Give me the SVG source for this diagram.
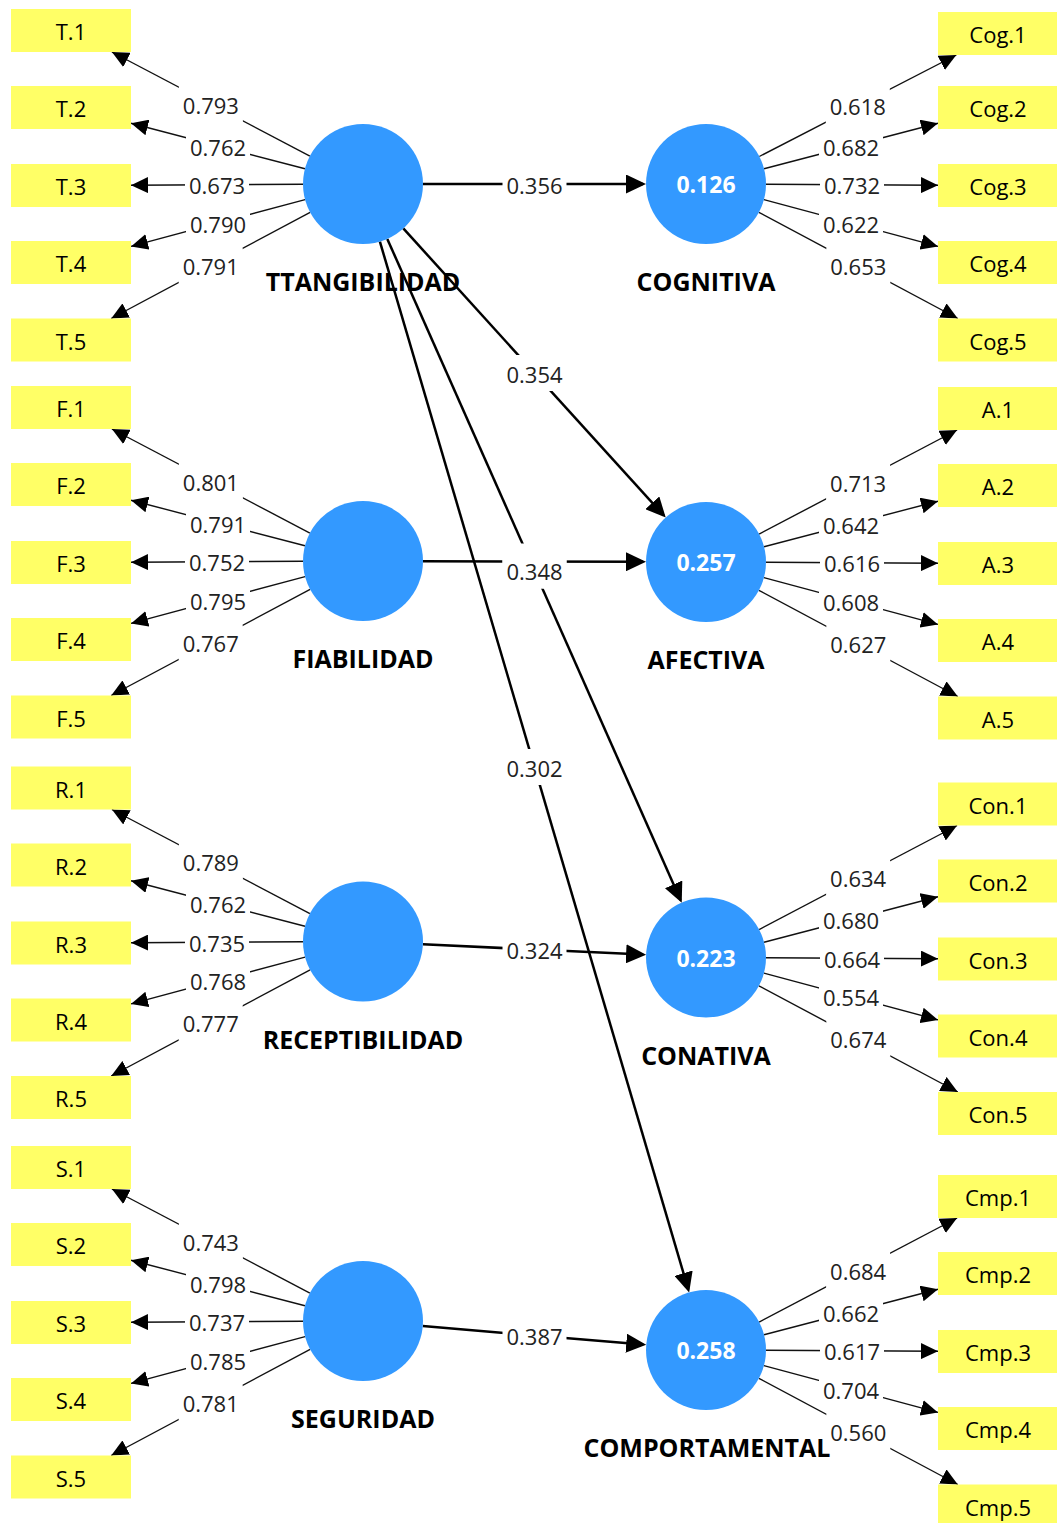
<svg xmlns="http://www.w3.org/2000/svg" width="1057" height="1523" viewBox="0 0 1057 1523">
<defs>
<style>
text{font-family:"Open Sans","Noto Sans","DejaVu Sans",sans-serif;text-anchor:middle}
.box{fill:#FFFF66}
.ind{font-size:22px;fill:#000}
.lv{fill:#3399FF}
.name{font-size:25px;font-weight:bold;fill:#000}
.val{font-size:23px;font-weight:bold;fill:#fff}
.ld{stroke:#111;stroke-width:1.4;fill:none;marker-end:url(#ah)}
.pc{stroke:#000;stroke-width:2.5;fill:none;marker-end:url(#ahb)}
.lb rect{fill:#fff}
.lb text{font-size:22px;fill:#222}
</style>
<marker id="ah" viewBox="0 0 17 16" refX="17" refY="8" markerWidth="17" markerHeight="16" markerUnits="userSpaceOnUse" orient="auto"><path d="M0,0 L17,8 L0,16 z" fill="#000"/></marker>
<marker id="ahb" viewBox="0 0 20 19" refX="17" refY="9.5" markerWidth="20" markerHeight="19" markerUnits="userSpaceOnUse" orient="auto"><path d="M0,0 L20,9.5 L0,19 z" fill="#000"/></marker>
</defs>
<rect width="1057" height="1523" fill="#fff"/>

<g id="connectors">
<g id="loadings">
<line class="ld" x1="309.9" y1="156.1" x2="111.9" y2="52"/>
<line class="ld" x1="305" y1="168.8" x2="131" y2="123.2"/>
<line class="ld" x1="303" y1="184.3" x2="131" y2="185.2"/>
<line class="ld" x1="305.1" y1="199.6" x2="131" y2="246.4"/>
<line class="ld" x1="310.1" y1="212.3" x2="111.2" y2="318.5"/>
<line class="ld" x1="309.9" y1="533.1" x2="111.9" y2="429"/>
<line class="ld" x1="305" y1="545.8" x2="131" y2="500.2"/>
<line class="ld" x1="303" y1="561.3" x2="131" y2="562.2"/>
<line class="ld" x1="305.1" y1="576.6" x2="131" y2="623.4"/>
<line class="ld" x1="310.1" y1="589.3" x2="111.2" y2="695.5"/>
<line class="ld" x1="309.9" y1="913.6" x2="111.9" y2="809.5"/>
<line class="ld" x1="305" y1="926.3" x2="131" y2="880.7"/>
<line class="ld" x1="303" y1="941.8" x2="131" y2="942.7"/>
<line class="ld" x1="305.1" y1="957.1" x2="131" y2="1003.9"/>
<line class="ld" x1="310.1" y1="969.8" x2="111.2" y2="1076"/>
<line class="ld" x1="309.9" y1="1293.1" x2="111.9" y2="1189"/>
<line class="ld" x1="305" y1="1305.8" x2="131" y2="1260.2"/>
<line class="ld" x1="303" y1="1321.3" x2="131" y2="1322.2"/>
<line class="ld" x1="305.1" y1="1336.6" x2="131" y2="1383.4"/>
<line class="ld" x1="310.1" y1="1349.3" x2="111.2" y2="1455.5"/>
<line class="ld" x1="759.3" y1="156.5" x2="956.3" y2="55"/>
<line class="ld" x1="764" y1="168.8" x2="938" y2="123.2"/>
<line class="ld" x1="766" y1="184.3" x2="938" y2="185.2"/>
<line class="ld" x1="763.9" y1="199.6" x2="938" y2="246.4"/>
<line class="ld" x1="758.9" y1="212.3" x2="957.8" y2="318.5"/>
<line class="ld" x1="759.1" y1="534.1" x2="957.1" y2="430"/>
<line class="ld" x1="764" y1="546.8" x2="938" y2="501.2"/>
<line class="ld" x1="766" y1="562.3" x2="938" y2="563.2"/>
<line class="ld" x1="763.9" y1="577.6" x2="938" y2="624.4"/>
<line class="ld" x1="758.9" y1="590.3" x2="957.8" y2="696.5"/>
<line class="ld" x1="759.1" y1="929.6" x2="957.1" y2="825.5"/>
<line class="ld" x1="764" y1="942.3" x2="938" y2="896.7"/>
<line class="ld" x1="766" y1="957.8" x2="938" y2="958.7"/>
<line class="ld" x1="763.9" y1="973.1" x2="938" y2="1019.9"/>
<line class="ld" x1="758.9" y1="985.8" x2="957.8" y2="1092"/>
<line class="ld" x1="759.1" y1="1322.1" x2="957.1" y2="1218"/>
<line class="ld" x1="764" y1="1334.8" x2="938" y2="1289.2"/>
<line class="ld" x1="766" y1="1350.3" x2="938" y2="1351.2"/>
<line class="ld" x1="763.9" y1="1365.6" x2="938" y2="1412.4"/>
<line class="ld" x1="758.9" y1="1378.3" x2="957.8" y2="1484.5"/>
</g>
<g id="paths">
<line class="pc" x1="423" y1="184" x2="643" y2="184"/>
<line class="pc" x1="403.3" y1="228.4" x2="663.7" y2="515.4"/>
<line class="pc" x1="387.3" y1="238.9" x2="680.5" y2="899.9"/>
<line class="pc" x1="379.9" y1="241.6" x2="688.3" y2="1289.5"/>
<line class="pc" x1="423" y1="561.2" x2="643" y2="561.8"/>
<line class="pc" x1="422.9" y1="944.3" x2="643.1" y2="954.6"/>
<line class="pc" x1="422.8" y1="1326.1" x2="643.2" y2="1344.6"/>
</g>
<g id="labels" class="lb">
<g transform="translate(210.9,104)"><rect x="-32" y="-18" width="64" height="36"/><text y="9.5">0.793</text></g>
<g transform="translate(218,146)"><rect x="-32" y="-18" width="64" height="36"/><text y="9.5">0.762</text></g>
<g transform="translate(217,184.75)"><rect x="-32" y="-18" width="64" height="36"/><text y="9.5">0.673</text></g>
<g transform="translate(218,223)"><rect x="-32" y="-18" width="64" height="36"/><text y="9.5">0.790</text></g>
<g transform="translate(210.7,265.4)"><rect x="-32" y="-18" width="64" height="36"/><text y="9.5">0.791</text></g>
<g transform="translate(210.9,481)"><rect x="-32" y="-18" width="64" height="36"/><text y="9.5">0.801</text></g>
<g transform="translate(218,523)"><rect x="-32" y="-18" width="64" height="36"/><text y="9.5">0.791</text></g>
<g transform="translate(217,561.75)"><rect x="-32" y="-18" width="64" height="36"/><text y="9.5">0.752</text></g>
<g transform="translate(218,600)"><rect x="-32" y="-18" width="64" height="36"/><text y="9.5">0.795</text></g>
<g transform="translate(210.7,642.4)"><rect x="-32" y="-18" width="64" height="36"/><text y="9.5">0.767</text></g>
<g transform="translate(210.9,861.5)"><rect x="-32" y="-18" width="64" height="36"/><text y="9.5">0.789</text></g>
<g transform="translate(218,903.5)"><rect x="-32" y="-18" width="64" height="36"/><text y="9.5">0.762</text></g>
<g transform="translate(217,942.25)"><rect x="-32" y="-18" width="64" height="36"/><text y="9.5">0.735</text></g>
<g transform="translate(218,980.5)"><rect x="-32" y="-18" width="64" height="36"/><text y="9.5">0.768</text></g>
<g transform="translate(210.7,1022.9)"><rect x="-32" y="-18" width="64" height="36"/><text y="9.5">0.777</text></g>
<g transform="translate(210.9,1241)"><rect x="-32" y="-18" width="64" height="36"/><text y="9.5">0.743</text></g>
<g transform="translate(218,1283)"><rect x="-32" y="-18" width="64" height="36"/><text y="9.5">0.798</text></g>
<g transform="translate(217,1321.75)"><rect x="-32" y="-18" width="64" height="36"/><text y="9.5">0.737</text></g>
<g transform="translate(218,1360)"><rect x="-32" y="-18" width="64" height="36"/><text y="9.5">0.785</text></g>
<g transform="translate(210.7,1402.4)"><rect x="-32" y="-18" width="64" height="36"/><text y="9.5">0.781</text></g>
<g transform="translate(857.8,105.8)"><rect x="-32" y="-18" width="64" height="36"/><text y="9.5">0.618</text></g>
<g transform="translate(851,146)"><rect x="-32" y="-18" width="64" height="36"/><text y="9.5">0.682</text></g>
<g transform="translate(852,184.75)"><rect x="-32" y="-18" width="64" height="36"/><text y="9.5">0.732</text></g>
<g transform="translate(851,223)"><rect x="-32" y="-18" width="64" height="36"/><text y="9.5">0.622</text></g>
<g transform="translate(858.3,265.4)"><rect x="-32" y="-18" width="64" height="36"/><text y="9.5">0.653</text></g>
<g transform="translate(858.1,482)"><rect x="-32" y="-18" width="64" height="36"/><text y="9.5">0.713</text></g>
<g transform="translate(851,524)"><rect x="-32" y="-18" width="64" height="36"/><text y="9.5">0.642</text></g>
<g transform="translate(852,562.75)"><rect x="-32" y="-18" width="64" height="36"/><text y="9.5">0.616</text></g>
<g transform="translate(851,601)"><rect x="-32" y="-18" width="64" height="36"/><text y="9.5">0.608</text></g>
<g transform="translate(858.3,643.4)"><rect x="-32" y="-18" width="64" height="36"/><text y="9.5">0.627</text></g>
<g transform="translate(858.1,877.5)"><rect x="-32" y="-18" width="64" height="36"/><text y="9.5">0.634</text></g>
<g transform="translate(851,919.5)"><rect x="-32" y="-18" width="64" height="36"/><text y="9.5">0.680</text></g>
<g transform="translate(852,958.25)"><rect x="-32" y="-18" width="64" height="36"/><text y="9.5">0.664</text></g>
<g transform="translate(851,996.5)"><rect x="-32" y="-18" width="64" height="36"/><text y="9.5">0.554</text></g>
<g transform="translate(858.3,1038.9)"><rect x="-32" y="-18" width="64" height="36"/><text y="9.5">0.674</text></g>
<g transform="translate(858.1,1270)"><rect x="-32" y="-18" width="64" height="36"/><text y="9.5">0.684</text></g>
<g transform="translate(851,1312)"><rect x="-32" y="-18" width="64" height="36"/><text y="9.5">0.662</text></g>
<g transform="translate(852,1350.75)"><rect x="-32" y="-18" width="64" height="36"/><text y="9.5">0.617</text></g>
<g transform="translate(851,1389)"><rect x="-32" y="-18" width="64" height="36"/><text y="9.5">0.704</text></g>
<g transform="translate(858.3,1431.4)"><rect x="-32" y="-18" width="64" height="36"/><text y="9.5">0.560</text></g>
<g transform="translate(534.5,184)"><rect x="-32" y="-18" width="64" height="36"/><text y="9.5">0.356</text></g>
<g transform="translate(534.5,373)"><rect x="-32" y="-18" width="64" height="36"/><text y="9.5">0.354</text></g>
<g transform="translate(534.5,561.5)"><rect x="-32" y="-18" width="64" height="36"/></g>
<g transform="translate(534.5,570.75)"><rect x="-32" y="-18" width="64" height="36"/><text y="9.5">0.348</text></g>
<g transform="translate(534.5,767)"><rect x="-32" y="-18" width="64" height="36"/><text y="9.5">0.302</text></g>
<g transform="translate(534.5,949.5)"><rect x="-32" y="-18" width="64" height="36"/><text y="9.5">0.324</text></g>
<g transform="translate(534.5,1335.5)"><rect x="-32" y="-18" width="64" height="36"/><text y="9.5">0.387</text></g>
</g>
</g>

<g id="TTANGIBILIDAD"><circle class="lv" cx="363" cy="184" r="60"/><text class="name" x="363" y="291">TTANGIBILIDAD</text></g>
<g id="FIABILIDAD"><circle class="lv" cx="363" cy="561" r="60"/><text class="name" x="363" y="668">FIABILIDAD</text></g>
<g id="RECEPTIBILIDAD"><circle class="lv" cx="363" cy="941.5" r="60"/><text class="name" x="363" y="1048.5">RECEPTIBILIDAD</text></g>
<g id="SEGURIDAD"><circle class="lv" cx="363" cy="1321" r="60"/><text class="name" x="363" y="1428">SEGURIDAD</text></g>
<g id="COGNITIVA"><circle class="lv" cx="706" cy="184" r="60"/><text class="val" x="706" y="193">0.126</text><text class="name" x="706" y="291">COGNITIVA</text></g>
<g id="AFECTIVA"><circle class="lv" cx="706" cy="562" r="60"/><text class="val" x="706" y="571">0.257</text><text class="name" x="706" y="669">AFECTIVA</text></g>
<g id="CONATIVA"><circle class="lv" cx="706" cy="957.5" r="60"/><text class="val" x="706" y="966.5">0.223</text><text class="name" x="706" y="1064.5">CONATIVA</text></g>
<g id="COMPORTAMENTAL"><circle class="lv" cx="706" cy="1350" r="60"/><text class="val" x="706" y="1359">0.258</text><text class="name" x="707" y="1457">COMPORTAMENTAL</text></g>

<g id="T.1"><rect class="box" x="11" y="9" width="120" height="43"/><text class="ind" x="71" y="40">T.1</text></g>
<g id="T.2"><rect class="box" x="11" y="86" width="120" height="43"/><text class="ind" x="71" y="117">T.2</text></g>
<g id="T.3"><rect class="box" x="11" y="164" width="120" height="43"/><text class="ind" x="71" y="195">T.3</text></g>
<g id="T.4"><rect class="box" x="11" y="241" width="120" height="43"/><text class="ind" x="71" y="272">T.4</text></g>
<g id="T.5"><rect class="box" x="11" y="318.5" width="120" height="43"/><text class="ind" x="71" y="349.5">T.5</text></g>
<g id="F.1"><rect class="box" x="11" y="386" width="120" height="43"/><text class="ind" x="71" y="417">F.1</text></g>
<g id="F.2"><rect class="box" x="11" y="463" width="120" height="43"/><text class="ind" x="71" y="494">F.2</text></g>
<g id="F.3"><rect class="box" x="11" y="541" width="120" height="43"/><text class="ind" x="71" y="572">F.3</text></g>
<g id="F.4"><rect class="box" x="11" y="618" width="120" height="43"/><text class="ind" x="71" y="649">F.4</text></g>
<g id="F.5"><rect class="box" x="11" y="695.5" width="120" height="43"/><text class="ind" x="71" y="726.5">F.5</text></g>
<g id="R.1"><rect class="box" x="11" y="766.5" width="120" height="43"/><text class="ind" x="71" y="797.5">R.1</text></g>
<g id="R.2"><rect class="box" x="11" y="843.5" width="120" height="43"/><text class="ind" x="71" y="874.5">R.2</text></g>
<g id="R.3"><rect class="box" x="11" y="921.5" width="120" height="43"/><text class="ind" x="71" y="952.5">R.3</text></g>
<g id="R.4"><rect class="box" x="11" y="998.5" width="120" height="43"/><text class="ind" x="71" y="1029.5">R.4</text></g>
<g id="R.5"><rect class="box" x="11" y="1076" width="120" height="43"/><text class="ind" x="71" y="1107">R.5</text></g>
<g id="S.1"><rect class="box" x="11" y="1146" width="120" height="43"/><text class="ind" x="71" y="1177">S.1</text></g>
<g id="S.2"><rect class="box" x="11" y="1223" width="120" height="43"/><text class="ind" x="71" y="1254">S.2</text></g>
<g id="S.3"><rect class="box" x="11" y="1301" width="120" height="43"/><text class="ind" x="71" y="1332">S.3</text></g>
<g id="S.4"><rect class="box" x="11" y="1378" width="120" height="43"/><text class="ind" x="71" y="1409">S.4</text></g>
<g id="S.5"><rect class="box" x="11" y="1455.5" width="120" height="43"/><text class="ind" x="71" y="1486.5">S.5</text></g>
<g id="Cog.1"><rect class="box" x="938" y="12" width="120" height="43"/><text class="ind" x="998" y="43">Cog.1</text></g>
<g id="Cog.2"><rect class="box" x="938" y="86" width="120" height="43"/><text class="ind" x="998" y="117">Cog.2</text></g>
<g id="Cog.3"><rect class="box" x="938" y="164" width="120" height="43"/><text class="ind" x="998" y="195">Cog.3</text></g>
<g id="Cog.4"><rect class="box" x="938" y="241" width="120" height="43"/><text class="ind" x="998" y="272">Cog.4</text></g>
<g id="Cog.5"><rect class="box" x="938" y="318.5" width="120" height="43"/><text class="ind" x="998" y="349.5">Cog.5</text></g>
<g id="A.1"><rect class="box" x="938" y="387" width="120" height="43"/><text class="ind" x="998" y="418">A.1</text></g>
<g id="A.2"><rect class="box" x="938" y="464" width="120" height="43"/><text class="ind" x="998" y="495">A.2</text></g>
<g id="A.3"><rect class="box" x="938" y="542" width="120" height="43"/><text class="ind" x="998" y="573">A.3</text></g>
<g id="A.4"><rect class="box" x="938" y="619" width="120" height="43"/><text class="ind" x="998" y="650">A.4</text></g>
<g id="A.5"><rect class="box" x="938" y="696.5" width="120" height="43"/><text class="ind" x="998" y="727.5">A.5</text></g>
<g id="Con.1"><rect class="box" x="938" y="782.5" width="120" height="43"/><text class="ind" x="998" y="813.5">Con.1</text></g>
<g id="Con.2"><rect class="box" x="938" y="859.5" width="120" height="43"/><text class="ind" x="998" y="890.5">Con.2</text></g>
<g id="Con.3"><rect class="box" x="938" y="937.5" width="120" height="43"/><text class="ind" x="998" y="968.5">Con.3</text></g>
<g id="Con.4"><rect class="box" x="938" y="1014.5" width="120" height="43"/><text class="ind" x="998" y="1045.5">Con.4</text></g>
<g id="Con.5"><rect class="box" x="938" y="1092" width="120" height="43"/><text class="ind" x="998" y="1123">Con.5</text></g>
<g id="Cmp.1"><rect class="box" x="938" y="1175" width="120" height="43"/><text class="ind" x="998" y="1206">Cmp.1</text></g>
<g id="Cmp.2"><rect class="box" x="938" y="1252" width="120" height="43"/><text class="ind" x="998" y="1283">Cmp.2</text></g>
<g id="Cmp.3"><rect class="box" x="938" y="1330" width="120" height="43"/><text class="ind" x="998" y="1361">Cmp.3</text></g>
<g id="Cmp.4"><rect class="box" x="938" y="1407" width="120" height="43"/><text class="ind" x="998" y="1438">Cmp.4</text></g>
<g id="Cmp.5"><rect class="box" x="938" y="1484.5" width="120" height="43"/><text class="ind" x="998" y="1515.5">Cmp.5</text></g>
</svg>
